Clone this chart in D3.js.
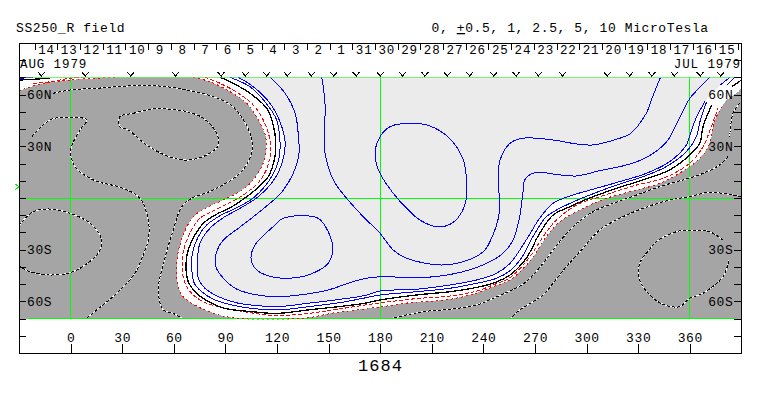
<!DOCTYPE html>
<html>
<head>
    <meta charset="utf-8" />
    <title>SS250_R field</title>
    <script src="https://cdn.jsdelivr.net/npm/d3@7"></script>
    <style>
        html, body { margin: 0; padding: 0; background: #fff; }
        svg { display: block; }
        text { font-family: 'Liberation Mono', monospace; font-size: 13px; letter-spacing: 0.6px; fill: #000; }
        .tight text, text.tight { font-size: 12.5px; letter-spacing: 0.9px; }
        path, line, rect { shape-rendering: crispEdges; }
        .contour { fill: none; }
        .axis .domain { display: none; }
        .axis line { stroke: #000; }
    </style>
</head>
<body>
    <script>

        // top axis: day numbers, running backwards in time from left to right
        const dayLabels = [14, 13, 12, 11, 10, 9, 8, 7, 6, 5, 4, 3, 2, 1, 31, 30, 29, 28, 27, 26, 25, 24, 23, 22, 21, 20, 19, 18, 17, 16, 15]
        const lonTicks = [0, 30, 60, 90, 120, 150, 180, 210, 240, 270, 300, 330, 360]
        const latTicks = [80, 70, 60, 50, 40, 30, 20, 10, 0, -10, -20, -30, -40, -50, -60, -70, -80]
        const latLabels = { '60': '60N', '30': '30N', '-30': '30S', '-60': '60S' }
        const gridLons = [0, 180, 360]
        const gridLats = [70, 0]

        // longitudes of the V marks along the top of the map
        const markLons = [-17, 8.5, 35, 61, 87.5, 101.6, 114, 126, 140, 153, 166, 180, 193, 206, 219, 232, 246, 259, 272, 286, 312, 325, 338, 351, 366, 378]
        const markerLat = 6.4

        // contours as [longitude, latitude]
        const black0 = [[86.9, 70.1], [94.6, 66.6], [104.3, 60.8], [114, 52.1], [117.8, 42.4], [119.2, 33.7], [118.8, 24], [114.9, 12.4], [106.2, 3.7], [102.4, 0.8], [93.7, -5.1], [84, -9.9], [77.2, -14.7], [72.3, -21.5], [68.4, -30.2], [67.1, -38.9], [68.4, -48.6], [72.3, -54.4], [80.1, -60.2], [89.8, -64.1], [105.3, -66], [119.8, -67], [138.2, -65], [155.6, -63.1], [171.2, -61.1], [179.9, -59.2], [201.2, -56.3], [220.6, -54.4], [236.1, -51.9], [245.6, -49.5], [255.5, -44.7], [264.9, -35], [272.7, -20.5], [280.5, -9.9], [290.2, -5.1], [299.8, -0.8], [317.3, 5.6], [332.8, 10.5], [348.3, 16.3], [360, 25], [365.8, 31.8], [367.7, 41.4], [372.7, 54]]
        const black0East = [[384.4, 64.6], [390, 68.5]]
        const black0West = [[-29.4, 68.5], [-12, 69.5]]

        const blue05 = [[92.7, 70.1], [104.3, 64.6], [113, 55.9], [119.8, 45.3], [121.7, 33.7], [121.3, 24], [116.9, 12.4], [106.2, 0], [96.6, -5.6], [86.9, -10.3], [79.1, -15.7], [74.2, -22.5], [70.8, -32.1], [70.4, -40.8], [71.9, -49.5], [76.2, -54.4], [84, -59.2], [93.7, -62.1], [105.3, -64.1], [120.8, -65], [138.2, -63.1], [157.6, -60.6], [171.2, -58], [179.9, -56.3], [201.2, -54.4], [220.6, -52.4], [236.1, -49.5], [247.7, -46.6], [255.5, -42.2], [262, -35], [268.8, -22.5], [276.6, -10.9], [288.2, -4.1], [301.8, 1.7], [317.3, 7.5], [332.8, 12.4], [346.3, 18.2], [358, 26.9], [363.8, 35.6], [365.9, 44.3], [369.8, 55.9]]
        const blue05East = [[381.5, 65.6], [386.3, 70.1]]
        const blue05West = [[-29.4, 69.5], [-21.9, 70.1]]

        const blue1 = [[97.5, 70.1], [106.2, 64.6], [115.9, 55], [121.7, 44.3], [124.7, 32.7], [123.7, 23.1], [118.8, 11.4], [109.1, 0.8], [98.5, -6], [88.8, -11.4], [81, -17.6], [75.2, -26.3], [73.7, -37], [74.2, -46.6], [78.1, -52.4], [85.9, -57.3], [97.5, -61.1], [111.1, -62.7], [120.8, -63.1], [138.2, -61.1], [157.6, -58.7], [171.2, -56.6], [179.9, -54], [201.2, -53], [220.6, -50.5], [236.1, -47.6], [247.7, -43.7], [255.5, -37.9], [264.9, -24.4], [272.7, -11.8], [280.5, -3.1], [292.1, 1.7], [305.6, 5.6], [319.2, 9.5], [334.7, 14.3], [348.3, 21.1], [358, 30.8], [360.1, 36.6], [364, 47.2], [368.8, 55.9]]
        const blue1East = [[377.7, 65.6], [383.4, 70.1]]

        const blue25 = [[115.9, 70.1], [124.7, 60.8], [130.5, 49.2], [132.4, 36.6], [132.4, 23.1], [123.7, 4.6], [111.1, -7], [97.5, -17.6], [88.8, -24.4], [84.9, -31.2], [84.5, -39.9], [88.8, -46.6], [95.6, -52.4], [106.2, -55.9], [120.8, -57.3], [136.3, -55.9], [149.8, -53.4], [165.4, -48.2], [176, -46], [191.5, -45.9], [209, -45.9], [228.1, -42.8], [243.8, -37], [251.4, -32.1], [257.2, -24.4], [260.7, -12.8], [263, 2.9], [264, 10.5], [269.8, 14.7], [284.5, 13.4], [294.2, 12.8], [307.8, 15.9], [323.3, 19.2], [334.9, 23.6], [346.6, 32.7], [354.3, 47.2], [360.1, 57.9], [367.8, 66.2], [371.7, 70.1]]

        const blue5 = [[146, 70.1], [147.9, 55], [147.5, 31.8], [147.9, 26], [152.7, 10.5], [160.5, -0.2], [170.2, -10.9], [179.9, -20.5], [187.6, -30.2], [195.4, -35], [214.8, -38.9], [228.3, -37], [239.9, -31.2], [243.8, -25.4], [249.2, -8.9], [248.7, 10.5], [249.7, 22.1], [255.5, 31.8], [263, 34.7], [280.5, 33.7], [294, 31.4], [303.7, 30.8], [317.3, 34.1], [325.1, 37.2], [334.7, 49.2], [337.6, 56.9], [342.9, 69.9]]

        const blue10North = [[185.7, 41.4], [197.2, 43.4], [208.9, 41.8], [220.2, 34.7], [228.3, 22.1], [230.3, 8.5], [229.9, -1.2], [226.4, -9.9], [220.6, -15.3], [212.9, -16.7], [203.1, -12.8], [195.4, -6], [187.6, 2.7], [179.9, 14.3], [177, 24], [178.9, 33.7]]
        const blue10South = [[132.4, -10.3], [144, -11.8], [149.8, -19.6], [152.4, -29.2], [149.8, -37.9], [138.2, -44.7], [126.6, -46.6], [116.9, -45.7], [108.2, -41.8], [104.9, -35], [107.2, -27.3], [118.8, -15.7], [122.7, -12.2]]

        const red1 = [[71.3, 70.1], [81, 67.5], [92.7, 61.7], [102.4, 55], [109.1, 45.3], [113.4, 35.6], [113, 24], [110.1, 16.3], [102.4, 6.6], [91.7, 0.2], [80.1, -5.1], [71.3, -10.9], [65.5, -21.5], [62.3, -33.1], [62, -48.6], [64.6, -56.3], [70.4, -61.1], [79.1, -65.4], [93.7, -69.5], [136.3, -69.7], [152.6, -66.8], [179.9, -63.3], [197.3, -60.8], [220.6, -58.8], [236.1, -55.2], [245.6, -51.5], [255.5, -47.6], [267.9, -35.6], [276.6, -22.5], [284.4, -13.8], [297.9, -6], [311.5, -0.2], [328.9, 4.6], [342.5, 8.5], [360, 18.2], [367.7, 25], [371.6, 31.8], [374.7, 45.3], [378.6, 53]]
        const red1East = [[381.5, 56.9], [390, 63.7], [390, 70]]
        const red1West = [[-30, 62.1], [-19.7, 65.6], [-0.3, 68.5], [26.8, 70.1]]

        const red05 = [[78.1, 70.1], [86.9, 66.6], [97.5, 60.8], [106.2, 54], [112, 45.3], [115.9, 33.7], [115.8, 23.2], [111.1, 11.4], [100.4, 1.7], [84, -7], [75.2, -11.8], [69.4, -20.5], [65.5, -31.2], [64.9, -40.8], [66.5, -49.5], [70.4, -55.3], [76.2, -59.8], [85.9, -63.1], [103.3, -66.4], [119.8, -68.3], [138.2, -67], [155.6, -64.5], [178.7, -61.1], [201.2, -58.4], [220.6, -56.9], [236.1, -54], [245.6, -50.5], [255.5, -46.2], [265.9, -35.6], [274.7, -22.5], [281.5, -13.8], [294, -4.1], [309.5, 1.3], [328.9, 7.5], [344.4, 11.4], [360, 20.2], [367.7, 29.8], [371.8, 39.5], [376.4, 52.3]]
        const red05West = [[-21.9, 66.6], [-12, 67.5], [-0.3, 69.5], [7.2, 69.9]]

        const neg1 = [[-10.1, 60.8], [-0.3, 62.7], [15.2, 63.7], [32.6, 65], [52, 65], [67.5, 62.7], [83, 58.8], [94.4, 53], [104.3, 37.6], [105.3, 26.1], [98.5, 14.5], [82.8, 4.6], [70.4, -0.2], [64.6, -5.1], [59.7, -18.6], [54.9, -34.8], [51, -53.4], [53.9, -65], [59.7, -67], [64.6, -69.7]]
        const neg2 = [[28.7, 47.2], [36.5, 49.2], [50.1, 52.1], [57.8, 51.5], [67.5, 50.1], [77.2, 46.3], [84.9, 37.6], [85.9, 30.8], [81, 26], [69.4, 22.1], [57.8, 23.8], [44.2, 30.8], [33.5, 39.5], [28.7, 41.4]]
        const neg3 = [[-22.6, 35.6], [-12, 45.3], [-0.3, 46.9], [9.4, 45.3], [5.5, 39.5], [0.1, 27.9], [2.6, 18.2], [13.2, 10.5], [30.6, 5.6], [40.3, -0.2], [45.2, -12.8], [45.2, -24.4], [43.3, -30.2], [37.4, -43.7], [26.8, -55.3], [15.2, -65], [9.4, -69.7]]
        const neg4 = [[-30, -16], [-21.7, -8], [-12, -6.4], [-0.3, -8.9], [11.3, -14.7], [18.1, -24.4], [16.1, -31.9], [8.4, -38.9], [-0.3, -43.4], [-12, -44.7], [-23.6, -42.8], [-30, -39.5]]
        const neg5 = [[379.3, -24.4], [371.6, -19.6], [361.9, -18.6], [352.2, -19.6], [340.5, -25.4], [336.3, -30.2], [330.9, -37.9], [330.9, -47.6], [336.7, -56.3], [344.4, -61.7], [354.1, -63.1], [360, -58.2], [367.7, -55.3], [379.3, -45.7], [382.8, -36]]
        const neg6 = [[382.2, 24], [377.4, 19.2], [367.7, 14.3], [356.1, 10.5], [342.5, 6.6], [328.9, 1.7], [315.4, -3.1], [303.7, -8], [292.1, -16.7], [280.5, -30.2], [274.7, -37.9], [264.9, -48.6], [255.3, -54], [245.8, -58.2], [236.1, -62.1], [220.6, -64.6], [205.1, -66], [195.4, -67.9], [187.6, -69.7]]
        const neg7 = [[390, 0.8], [371.6, 3.3], [360, 0.8], [348.3, -1.2], [332.8, -6], [319.2, -11.8], [307.6, -18.6], [297, -30.2], [288.2, -39.9], [280.5, -49.5], [274.7, -56.3], [268.8, -60.2], [261.1, -65], [256.2, -69.7]]
        const neg8 = [[389, 55], [385.1, 49.2], [383.2, 35.4]]

        const width = 763, height = 396
        const frame = { left: 19, right: 741.4, top: 43, bottom: 353 }

        const x = d3.scaleLinear().domain([-30, 390]).range([frame.left, frame.right])
        const y = d3.scaleLinear().domain([-90, 90]).range([frame.bottom, frame.top])
        const dayX = d3.scaleLinear().domain([0, dayLabels.length]).range([34.7, 738])

        const line = d3.line().x(d => x(d[0])).y(d => y(d[1])).curve(d3.curveCatmullRom)
        const closedLine = d3.line().x(d => x(d[0])).y(d => y(d[1])).curve(d3.curveCatmullRomClosed)

        const svg = d3.select('body').append('svg').attr('width', width).attr('height', height)

        svg.append('clipPath').attr('id', 'map')
            .append('rect')
            .attr('x', frame.left).attr('y', y(70))
            .attr('width', frame.right - frame.left).attr('height', y(-70) - y(70) + 1)

        const map = svg.append('g').attr('clip-path', 'url(#map)')

        // region fills: gray below -1, white in between, light above +1
        map.append('rect')
            .attr('x', frame.left).attr('y', y(70))
            .attr('width', frame.right - frame.left).attr('height', y(-70) - y(70))
            .attr('fill', '#a5a5a5')

        map.append('path').attr('fill', '#fff').attr('d', line(red1.concat(red1East)) + 'Z')
        map.append('path').attr('fill', '#fff').attr('d', line(red1West.concat([[-30, 70]])) + 'Z')
        map.append('path').attr('fill', '#ebebeb').attr('d', line(blue1.concat(blue1East)) + 'Z')

        // grid, the bottom line stops short of the frame
        gridLats.forEach(function (lat) {
            map.append('line')
                .attr('x1', frame.left).attr('x2', frame.right)
                .attr('y1', y(lat)).attr('y2', y(lat))
                .attr('stroke', '#00ff00')
        })
        map.append('line')
            .attr('x1', x(-25)).attr('x2', x(386))
            .attr('y1', y(-70)).attr('y2', y(-70))
            .attr('stroke', '#00ff00')
        gridLons.forEach(function (lon) {
            map.append('line')
                .attr('x1', x(lon)).attr('x2', x(lon))
                .attr('y1', y(70)).attr('y2', y(-70))
                .attr('stroke', '#00ff00')
        })

        function contour(points, color, strokeWidth, dash, path) {
            map.append('path')
                .attr('class', 'contour')
                .attr('d', (path || line)(points))
                .attr('stroke', color)
                .attr('stroke-width', strokeWidth)
                .attr('stroke-dasharray', dash)
        }

        // negative loops: white line with black dashes on it
        const negatives = [neg1, neg2, neg3, neg4, neg5, neg6, neg7, neg8]
        negatives.forEach(function (points) {
            let path = points === neg2 ? closedLine : line
            contour(points, '#fff', 1, null, path)
            contour(points, '#000', 1, '3 2', path)
        })

        contour(red1, '#ff0000', 1, '2 3')
        contour(red1West, '#ff0000', 1, '2 3')
        contour(red05, '#ff0000', 1, '4 2')
        contour(red05West, '#ff0000', 1, '4 2')

        contour(black0, '#000', 1.3)
        contour(black0East, '#000', 1.3)
        contour(black0West, '#000', 1.3)

        const blues = [blue05, blue05East, blue05West, blue1, blue1East, blue25, blue5]
        blues.forEach(function (points) {
            contour(points, '#0000ff', 1)
        })
        contour(blue10North, '#0000ff', 1, null, closedLine)
        contour(blue10South, '#0000ff', 1, null, closedLine)

        // V marks on the top of the map
        svg.append('g').selectAll('path')
            .data(markLons)
            .enter()
            .append('path')
            .attr('transform', d => `translate(${x(d)}, ${y(70)})`)
            .attr('d', 'M-3.5,-5.5L0,-1.5L3.5,-5.5M0,-1.5V0')
            .attr('fill', 'none')
            .attr('stroke', '#000')

        // marker for the latitude, left and right of the frame
        svg.append('path')
            .attr('transform', `translate(${frame.left}, ${y(markerLat)})`)
            .attr('d', 'M-4,-3L0,0L-4,3')
            .attr('fill', 'none')
            .attr('stroke', '#00ff00')
        svg.append('line')
            .attr('x1', frame.right - 1).attr('x2', frame.right + 1)
            .attr('y1', y(markerLat - 1.7)).attr('y2', y(markerLat - 1.7))
            .attr('stroke', '#00ff00')

        // axes
        let dayTicks = d3.axisBottom(dayX)
            .tickValues(d3.range(dayLabels.length + 1))
            .tickSize(7)
            .tickFormat('')
        svg.append('g').attr('class', 'axis').attr('transform', `translate(0, ${frame.top})`).call(dayTicks)

        let dayNames = d3.axisBottom(dayX)
            .tickValues(dayLabels.map((d, i) => i + 0.5))
            .tickSize(0)
            .tickPadding(0)
            .tickFormat(d => dayLabels[d - 0.5])
        svg.append('g').attr('class', 'axis tight').attr('transform', `translate(0, ${frame.top})`).call(dayNames)
            .selectAll('text').attr('dy', null).attr('y', 10.5)

        let lonAxis = d3.axisTop(x)
            .tickValues(lonTicks)
            .tickSize(9)
            .tickPadding(2)
        svg.append('g').attr('class', 'axis').attr('transform', `translate(0, ${frame.bottom})`).call(lonAxis)

        let latLeft = d3.axisRight(y)
            .tickValues(latTicks)
            .tickSize(7)
            .tickPadding(1)
            .tickFormat(d => latLabels[d] || '')
        svg.append('g').attr('class', 'axis').attr('transform', `translate(${frame.left}, 0)`).call(latLeft)

        let latRight = d3.axisLeft(y)
            .tickValues(latTicks)
            .tickSize(7)
            .tickPadding(1)
            .tickFormat(d => latLabels[d] || '')
        svg.append('g').attr('class', 'axis').attr('transform', `translate(${frame.right}, 0)`).call(latRight)

        svg.append('rect')
            .attr('x', frame.left + 0.5).attr('y', frame.top + 0.5)
            .attr('width', frame.right - frame.left - 0.5).attr('height', frame.bottom - frame.top)
            .attr('fill', 'none')
            .attr('stroke', '#000')

        // texts
        svg.append('text').attr('x', 16).attr('y', 32).text('SS250_R field')

        let scale = svg.append('text').attr('x', 431.5).attr('y', 32)
        scale.append('tspan').text('0, ')
        scale.append('tspan').attr('text-decoration', 'underline').text('+')
        scale.append('tspan').text('0.5, 1, 2.5, 5, 10 MicroTesla')

        svg.append('text').attr('class', 'tight').attr('x', 20).attr('y', 67.5).text('AUG 1979')
        svg.append('text').attr('class', 'tight').attr('x', 741).attr('y', 67.5).attr('text-anchor', 'end').text('JUL 1979')

        svg.append('text')
            .attr('x', 380.5).attr('y', 371)
            .attr('text-anchor', 'middle')
            .style('font-size', '17px')
            .style('letter-spacing', '1px')
            .text('1684')

    </script>
</body>
</html>
